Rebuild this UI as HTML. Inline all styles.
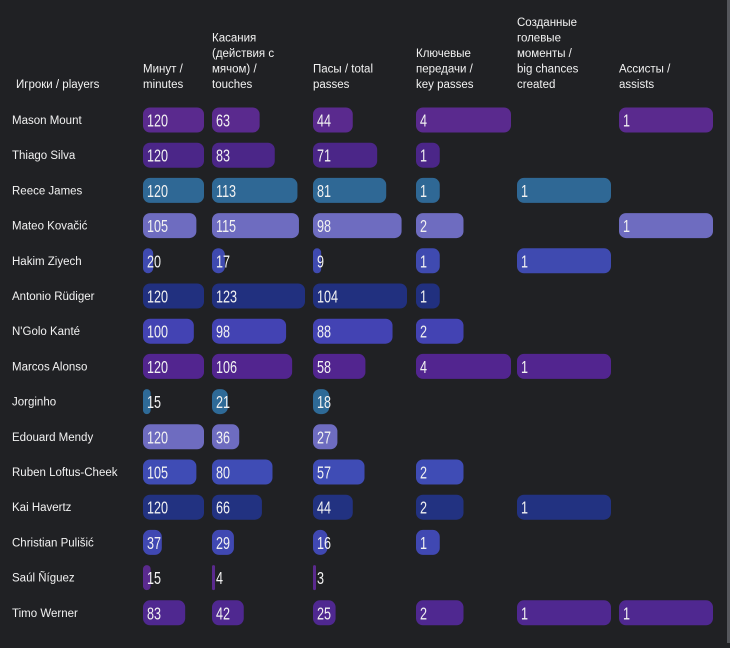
<!DOCTYPE html>
<html><head><meta charset="utf-8">
<style>
html,body{margin:0;padding:0;background:#202124;}
body{width:730px;height:643px;overflow:hidden;position:relative;}
#edge{position:absolute;right:0;top:0;width:3px;height:643px;background:#55575c;}
svg text{font-family:"Liberation Sans","DejaVu Sans",sans-serif;}
</style></head>
<body>
<svg id="chart" width="730" height="643" xmlns="http://www.w3.org/2000/svg">
<rect width="730" height="643" fill="#202124"/>
</svg>
<div id="edge"></div>
<script>
const players = ["Mason Mount","Thiago Silva","Reece James","Mateo Kovačić","Hakim Ziyech","Antonio Rüdiger","N'Golo Kanté","Marcos Alonso","Jorginho","Edouard Mendy","Ruben Loftus-Cheek","Kai Havertz","Christian Pulišić","Saúl Ñíguez","Timo Werner"];
const minutes = [120,120,120,105,20,120,100,120,15,120,105,120,37,15,83];
const touches = [63,83,113,115,17,123,98,106,21,36,80,66,29,4,42];
const passes = [44,71,81,98,9,104,88,58,18,27,57,44,16,3,25];
const keyPasses = [4,1,1,2,1,1,2,4,null,null,2,2,1,null,2];
const bigChances = [null,null,1,null,1,null,null,1,null,null,null,1,null,null,1];
const assists = [1,null,null,1,null,null,null,null,null,null,null,null,null,null,1];
const rowColors = ["#5a2a8e","#4b2688","#2f6895","#6e6cc0","#3f4ab0","#21307f","#4343b3","#52258f","#2e6a97","#6e6cc0","#3f4cb5","#223281","#4048b2","#5a2a8e","#4f2890"];

const svg = document.getElementById('chart');
const NS = "http://www.w3.org/2000/svg";
const cols = [
  {key:'minutes', data:minutes, x:143, w:61, head:["Минут /","minutes"]},
  {key:'touches', data:touches, x:212, w:93, head:["Касания","(действия с","мячом) /","touches"]},
  {key:'passes', data:passes, x:313, w:94, head:["Пасы / total","passes"]},
  {key:'key-passes', data:keyPasses, x:416, w:95, head:["Ключевые","передачи /","key passes"]},
  {key:'big-chances', data:bigChances, x:517, w:94, head:["Созданные","голевые","моменты /","big chances","created"]},
  {key:'assists', data:assists, x:619, w:94, head:["Ассисты /","assists"]}
];
function rowY(i){ return 120 + i*35.2; }

function addText(x,y,str,size,name,weight){
  const t=document.createElementNS(NS,'text');
  t.setAttribute('x',x); t.setAttribute('y',y);
  t.setAttribute('fill','#f2f2f2'); t.setAttribute('font-size',size);
  if(weight) t.setAttribute('font-weight',weight);
  t.textContent=str;
  
  
  svg.appendChild(t);
  return t;
}
addText(16,88,"Игроки / players",11.5,'players-header');
cols.forEach(c=>{
  const n=c.head.length;
  c.head.forEach((line,j)=>{
    addText(c.x, 88-(n-1-j)*15.5, line, 11.5, c.key+'-header');
  });
});
players.forEach((p,i)=>{
  const cy=rowY(i);
  addText(12, cy+4, p, 11.5, 'player-name');
  cols.forEach(c=>{
    const v=c.data[i];
    if(v===null||v===undefined) return;
    const max=Math.max(...c.data.filter(d=>d!==null));
    const w=Math.max(3, v/max*c.w);
    const r=document.createElementNS(NS,'rect');
    r.setAttribute('x',c.x); r.setAttribute('y',cy-12.5);
    r.setAttribute('width',w); r.setAttribute('height',25);
    r.setAttribute('rx',Math.min(7,w/2)); r.setAttribute('fill',rowColors[i]);
    
    
    svg.appendChild(r);
    const tx=c.x+4;
    const t=addText(0, cy+6.5, String(v), 18, 'value-'+c.key);
    t.setAttribute('transform','translate('+tx+',0) scale(0.7,1)');
  });
});
</script>
</body></html>
